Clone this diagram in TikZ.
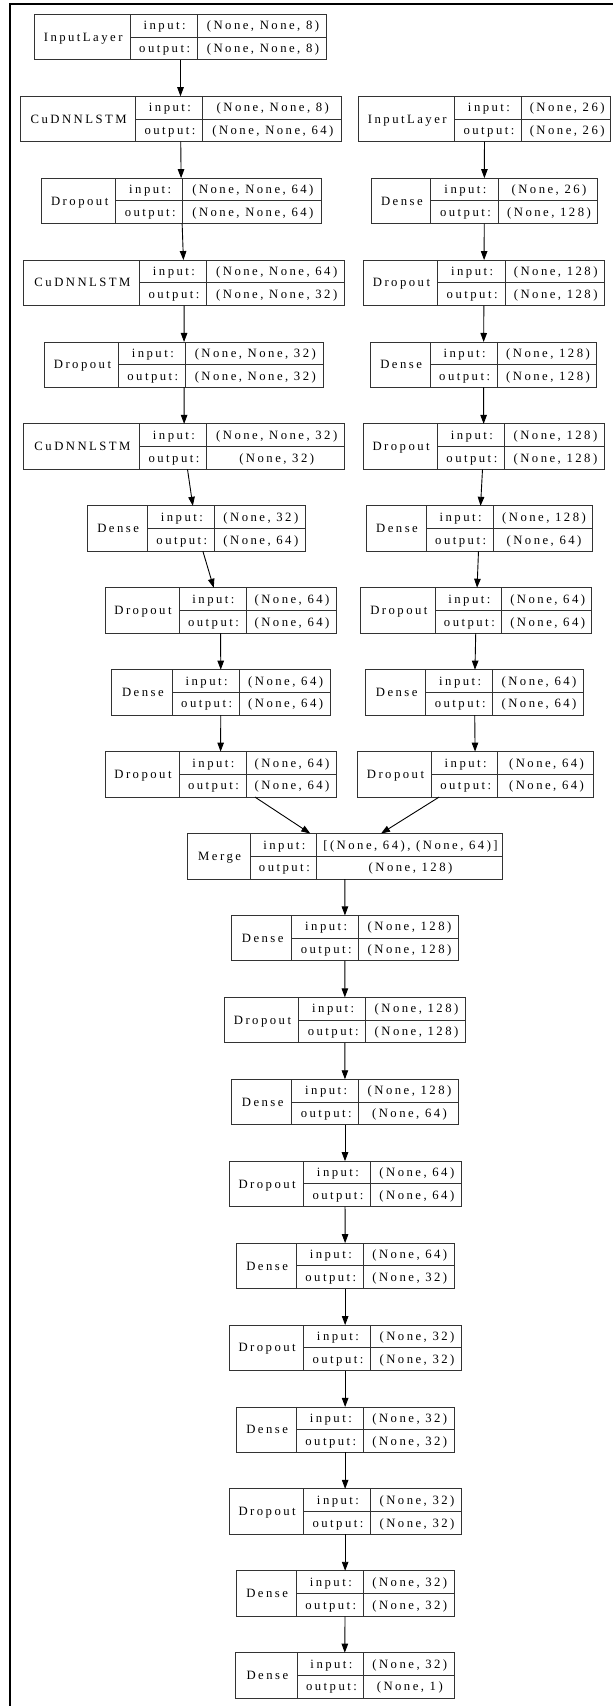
\documentclass[tikz,border=0pt]{standalone}
\usepackage{fontspec}
\newfontfamily\gvfont[LetterSpace=19.5]{Liberation Serif}
\usetikzlibrary{arrows.meta}
\tikzset{
  box/.style={draw=black!80, line width=0.9pt, inner sep=0pt, outer sep=0pt, anchor=north west},
  cell/.style={draw=black!80, line width=0.9pt},
  txt/.style={inner sep=0pt, font=\gvfont\fontsize{12.7}{14}\selectfont, text height=8.3pt, text depth=0pt},
  arr/.style={draw=black, line width=0.9pt, -{Triangle[length=9pt,width=6.5pt]}},
  frameline/.style={line width=2pt, draw=black}
}
\newcommand{\klayer}[9]{%
  \pgfmathsetmacro\kyt{14.3+81.92*(#2-1)}%
  \pgfmathsetmacro\kyb{\kyt+45.5}%
  \pgfmathsetmacro\kym{\kyt+22.75}%
  \pgfmathsetmacro\kbw{#6-#3}%
  \node[box, minimum width=\kbw pt, minimum height=45.5pt] (#1) at (#3,\kyt) {};
  \draw[cell] (#4,\kyt) -- (#4,\kyb) (#5,\kyt) -- (#5,\kyb) (#4,\kym) -- (#6,\kym);
  \node[txt] (#1n) at ({(#3+#4)/2+1},\kym) {#7};
  \node[txt] (#1a) at ({(#4+#5)/2+1},{\kyt+11.375}) {input:};
  \node[txt] (#1b) at ({(#4+#5)/2+1},{\kyt+34.125}) {output:};
  \node[txt] (#1c) at ({(#5+#6)/2+1},{\kyt+11.375}) {#8};
  \node[txt] (#1d) at ({(#5+#6)/2+1},{\kyt+34.125}) {#9};
}
\begin{document}
\begin{tikzpicture}[x=1pt, y=-1pt]
\useasboundingbox (0,0) rectangle (613,1706);
\draw[frameline] (9.7,1706) -- (9.7,4.3) -- (613,4.3);
% left branch
\klayer{L1}{1}{34.3}{130}{197.3}{326.7}{InputLayer}{(None, None, 8)}{(None, None, 8)}
\klayer{L2}{2}{20}{135.3}{202.7}{341}{CuDNNLSTM}{(None, None, 8)}{(None, None, 64)}
\klayer{L3}{3}{41.7}{115.7}{182.7}{321}{Dropout}{(None, None, 64)}{(None, None, 64)}
\klayer{L4}{4}{23.7}{139.3}{206.7}{344.7}{CuDNNLSTM}{(None, None, 64)}{(None, None, 32)}
\klayer{L5}{5}{44.7}{118.3}{185.3}{323.3}{Dropout}{(None, None, 32)}{(None, None, 32)}
\klayer{L6}{6}{23.7}{139.3}{206.7}{344.7}{CuDNNLSTM}{(None, None, 32)}{(None, 32)}
\klayer{L7}{7}{87.3}{147}{214.7}{305}{Dense}{(None, 32)}{(None, 64)}
\klayer{L8}{8}{105}{179}{246}{336}{Dropout}{(None, 64)}{(None, 64)}
\klayer{L9}{9}{111.7}{172}{239.3}{330}{Dense}{(None, 64)}{(None, 64)}
\klayer{L10}{10}{105}{179}{246}{336}{Dropout}{(None, 64)}{(None, 64)}
% right branch
\klayer{R1}{2}{358.3}{454.3}{521.7}{610.7}{InputLayer}{(None, 26)}{(None, 26)}
\klayer{R2}{3}{371}{430.7}{498.3}{597.7}{Dense}{(None, 26)}{(None, 128)}
\klayer{R3}{4}{363.7}{437.3}{505}{604.3}{Dropout}{(None, 128)}{(None, 128)}
\klayer{R4}{5}{370.3}{430}{497.3}{596.7}{Dense}{(None, 128)}{(None, 128)}
\klayer{R5}{6}{363.2}{437}{504.7}{604.2}{Dropout}{(None, 128)}{(None, 128)}
\klayer{R6}{7}{366}{426}{493.3}{592.7}{Dense}{(None, 128)}{(None, 64)}
\klayer{R7}{8}{360.7}{435}{501.7}{591.7}{Dropout}{(None, 64)}{(None, 64)}
\klayer{R8}{9}{365.7}{425.7}{492.7}{583.3}{Dense}{(None, 64)}{(None, 64)}
\klayer{R9}{10}{357.3}{431.7}{497.7}{593.3}{Dropout}{(None, 64)}{(None, 64)}
% trunk
\klayer{M}{11}{187.3}{250}{316.7}{502.3}{Merge}{[(None, 64), (None, 64)]}{(None, 128)}
\klayer{C12}{12}{231.7}{291.7}{358.7}{458.3}{Dense}{(None, 128)}{(None, 128)}
\klayer{C13}{13}{224.3}{298.7}{365.7}{465.3}{Dropout}{(None, 128)}{(None, 128)}
\klayer{C14}{14}{231.7}{291.7}{358.7}{458.3}{Dense}{(None, 128)}{(None, 64)}
\klayer{C15}{15}{229}{303.3}{370.7}{461}{Dropout}{(None, 64)}{(None, 64)}
\klayer{C16}{16}{236}{296.3}{363.3}{454.3}{Dense}{(None, 64)}{(None, 32)}
\klayer{C17}{17}{229}{303.3}{370.7}{461.3}{Dropout}{(None, 32)}{(None, 32)}
\klayer{C18}{18}{236}{296.3}{363.3}{454.3}{Dense}{(None, 32)}{(None, 32)}
\klayer{C19}{19}{229}{303.3}{370.7}{461.3}{Dropout}{(None, 32)}{(None, 32)}
\klayer{C20}{20}{236}{296.3}{363.3}{454.3}{Dense}{(None, 32)}{(None, 32)}
\klayer{C21}{21}{235}{297.7}{363.3}{454.3}{Dense}{(None, 32)}{(None, 1)}
% connectors
\foreach \a/\b in {L1/L2,L2/L3,L3/L4,L4/L5,L5/L6,L6/L7,L7/L8,L8/L9,L9/L10,L10/M,
  R1/R2,R2/R3,R3/R4,R4/R5,R5/R6,R6/R7,R7/R8,R8/R9,R9/M,
  M/C12,C12/C13,C13/C14,C14/C15,C15/C16,C16/C17,C17/C18,C18/C19,C19/C20,C20/C21}
  \draw[arr] (\a) -- (\b);
\end{tikzpicture}
\end{document}
